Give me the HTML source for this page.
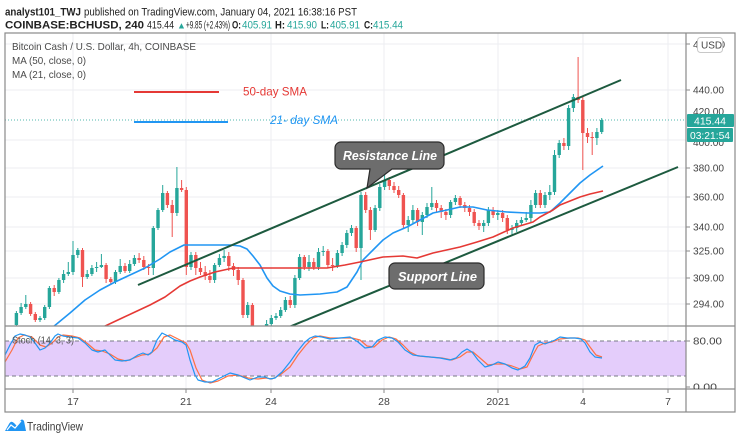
<!DOCTYPE html>
<html><head><meta charset="utf-8"><style>
html,body{margin:0;padding:0;background:#fff;}
svg{display:block;font-family:"Liberation Sans",sans-serif;}
</style></head><body>
<svg width="740" height="441" viewBox="0 0 740 441" xmlns="http://www.w3.org/2000/svg">
<defs>
<clipPath id="mp"><rect x="5" y="33" width="681" height="293"/></clipPath>
<clipPath id="sp"><rect x="5" y="326" width="681" height="63"/></clipPath>
<clipPath id="ax"><rect x="686" y="326" width="49" height="63"/></clipPath>
</defs>
<rect width="740" height="441" fill="#fff"/>

<!-- header -->
<text x="5" y="15.5" font-size="11" font-weight="bold" fill="#222" textLength="76" lengthAdjust="spacingAndGlyphs">analyst101_TWJ</text>
<text x="84" y="15.5" font-size="11" fill="#222" textLength="273" lengthAdjust="spacingAndGlyphs">published on TradingView.com, January 04, 2021 16:38:16 PST</text>
<g font-size="11" fill="#222">
<text x="5" y="28.5" font-weight="bold" textLength="139" lengthAdjust="spacingAndGlyphs">COINBASE:BCHUSD, 240</text>
<text x="147" y="28.5" textLength="27" lengthAdjust="spacingAndGlyphs">415.44</text>
<text x="177" y="28.5" fill="#26a69a" font-size="9">▲</text>
<text x="186" y="28.5" textLength="44" lengthAdjust="spacingAndGlyphs">+9.85 (+2.43%)</text>
<text x="232" y="28.5" font-weight="bold" textLength="9" lengthAdjust="spacingAndGlyphs">O:</text><text x="242" y="28.5" fill="#26a69a" textLength="30" lengthAdjust="spacingAndGlyphs">405.91</text>
<text x="275" y="28.5" font-weight="bold" textLength="10" lengthAdjust="spacingAndGlyphs">H:</text><text x="287" y="28.5" fill="#26a69a" textLength="30" lengthAdjust="spacingAndGlyphs">415.90</text>
<text x="321" y="28.5" font-weight="bold" textLength="8" lengthAdjust="spacingAndGlyphs">L:</text><text x="330" y="28.5" fill="#26a69a" textLength="30" lengthAdjust="spacingAndGlyphs">405.91</text>
<text x="364" y="28.5" font-weight="bold" textLength="9" lengthAdjust="spacingAndGlyphs">C:</text><text x="373" y="28.5" fill="#26a69a" textLength="30" lengthAdjust="spacingAndGlyphs">415.44</text>
</g>

<!-- grid -->
<g stroke="#eceef2" stroke-width="1">
<line x1="5" y1="44" x2="686" y2="44"/>
<line x1="5" y1="90" x2="686" y2="90"/>
<line x1="5" y1="140" x2="686" y2="140"/>
<line x1="5" y1="168" x2="686" y2="168"/>
<line x1="5" y1="197" x2="686" y2="197"/>
<line x1="5" y1="227" x2="686" y2="227"/>
<line x1="5" y1="251" x2="686" y2="251"/>
<line x1="5" y1="278" x2="686" y2="278"/>
<line x1="5" y1="304" x2="686" y2="304"/>
<line x1="73" y1="33" x2="73" y2="389"/>
<line x1="186" y1="33" x2="186" y2="389"/>
<line x1="271" y1="33" x2="271" y2="389"/>
<line x1="384" y1="33" x2="384" y2="389"/>
<line x1="498" y1="33" x2="498" y2="389"/>
<line x1="583" y1="33" x2="583" y2="389"/>
<line x1="668" y1="33" x2="668" y2="389"/>
</g>

<!-- legend -->
<g fill="#4a4a4a" font-size="10.5">
<text x="12" y="50" textLength="184" lengthAdjust="spacingAndGlyphs">Bitcoin Cash / U.S. Dollar, 4h, COINBASE</text>
<text x="12" y="64" textLength="74" lengthAdjust="spacingAndGlyphs">MA (50, close, 0)</text>
<text x="12" y="78" textLength="74" lengthAdjust="spacingAndGlyphs">MA (21, close, 0)</text>
</g>

<!-- last price dotted line -->
<line x1="5" y1="120" x2="686" y2="120" stroke="#26a69a" stroke-width="1" stroke-dasharray="1 2" opacity="0.8"/>

<g clip-path="url(#mp)">
<!-- green candles -->
<path fill="none" stroke="#26a69a" stroke-width="1" d="M16.4 311V327M21.1 303V315M25.8 295V309M40 316V322M44.7 305V320M49.4 286V309M58.9 278V294M63.6 270V283M68.3 262V276M73 241V275M77.8 248V258M87.2 270V279M91.9 265V276M96.6 262V272M101.4 254V268M115.5 270V284M120.2 259V274M129.7 260V273M134.4 255V266M153.3 226V275M158 208V230M162.7 185V212M176.9 167V216M191 252V270M214.6 263V283M219.4 254V267M224.1 250V262M247.7 302V318M261.8 328V342M266.6 320V336M271.3 315V327M276 313V320M280.7 307V318M285.4 297V312M294.9 275V308M299.6 254V280M309 255V271M318.5 248V270M323.2 246V256M337.4 250V268M342.1 242V256M346.8 230V248M351.5 225V236M361 192V280M375.1 205V232M379.8 184V211M384.6 175V190M408.2 216V232M412.9 205V223M422.3 212V235M427 203V218M431.8 187V210M450.6 200V218M455.4 195V205M483.7 220V232M488.4 207V226M497.8 210V220M512 225V235M516.7 220V232M521.4 217V226M526.2 212V222M530.9 200V222M535.6 190V208M545 192V208M549.8 185V200M554.5 150V195M559.2 140V158M568.6 105V150M573.4 94V112M596.9 128V145M601.7 118V134"/>
<path fill="#26a69a" d="M14.7 313h3.4v12h-3.4zM19.4 307h3.4v6h-3.4zM24.1 304h3.4v3h-3.4zM38.3 318h3.4v2h-3.4zM43.0 307h3.4v11h-3.4zM47.7 288h3.4v19h-3.4zM57.2 280h3.4v12h-3.4zM61.9 274h3.4v6h-3.4zM66.6 272h3.4v2h-3.4zM71.3 255h3.4v17h-3.4zM76.1 250h3.4v5h-3.4zM85.5 274h3.4v3h-3.4zM90.2 268h3.4v6h-3.4zM94.9 267h3.4v1h-3.4zM99.7 265h3.4v2h-3.4zM113.8 272h3.4v10h-3.4zM118.5 266h3.4v6h-3.4zM128.0 264h3.4v7h-3.4zM132.7 258h3.4v6h-3.4zM151.6 228h3.4v40h-3.4zM156.3 210h3.4v18h-3.4zM161.0 193h3.4v17h-3.4zM175.2 188h3.4v25h-3.4zM189.3 255h3.4v12h-3.4zM212.9 265h3.4v15h-3.4zM217.7 258h3.4v7h-3.4zM222.4 256h3.4v2h-3.4zM246.0 305h3.4v10h-3.4zM260.1 332h3.4v6h-3.4zM264.9 324h3.4v8h-3.4zM269.6 318h3.4v6h-3.4zM274.3 316h3.4v2h-3.4zM279.0 310h3.4v6h-3.4zM283.7 300h3.4v10h-3.4zM293.2 278h3.4v27h-3.4zM297.9 257h3.4v21h-3.4zM307.3 262h3.4v5h-3.4zM316.8 252h3.4v15h-3.4zM321.5 251h3.4v1h-3.4zM335.7 253h3.4v13h-3.4zM340.4 245h3.4v8h-3.4zM345.1 233h3.4v12h-3.4zM349.8 228h3.4v5h-3.4zM359.3 195h3.4v53h-3.4zM373.4 208h3.4v22h-3.4zM378.1 187h3.4v21h-3.4zM382.9 180h3.4v7h-3.4zM406.5 220h3.4v5h-3.4zM411.2 210h3.4v10h-3.4zM420.6 215h3.4v7h-3.4zM425.3 207h3.4v8h-3.4zM430.1 203h3.4v4h-3.4zM448.9 202h3.4v13h-3.4zM453.7 198h3.4v4h-3.4zM482.0 223h3.4v3h-3.4zM486.7 210h3.4v13h-3.4zM496.1 213h3.4v2h-3.4zM510.3 228h3.4v2h-3.4zM515.0 223h3.4v5h-3.4zM519.7 220h3.4v3h-3.4zM524.5 218h3.4v2h-3.4zM529.2 205h3.4v13h-3.4zM533.9 193h3.4v12h-3.4zM543.3 195h3.4v10h-3.4zM548.1 192h3.4v3h-3.4zM552.8 155h3.4v37h-3.4zM557.5 143h3.4v12h-3.4zM566.9 108h3.4v38h-3.4zM571.7 97h3.4v11h-3.4zM595.2 132h3.4v6h-3.4zM600.0 120h3.4v12h-3.4z"/>
<!-- red candles -->
<path fill="none" stroke="#ef5350" stroke-width="1" d="M30.6 302V316M35.3 312V322M54.2 285V296M82.5 248V287M106.1 263V283M110.8 277V285M125 263V273M139.1 253V263M143.8 256V270M148.6 264V275M167.4 191V208M172.2 200V237M181.6 180V192M186.3 187V275M195.8 252V275M200.5 262V275M205.2 266V280M209.9 270V283M228.8 252V271M233.5 263V276M238.2 267V285M243 278V318M252.4 303V340M257.1 326V345M290.2 296V308M304.3 255V270M313.8 258V270M327.9 249V268M332.6 258V271M356.2 226V252M365.7 192V213M370.4 207V240M389.3 177V190M394 182V193M398.7 186V198M403.4 193V228M417.6 208V226M436.5 200V212M441.2 205V218M445.9 209V220M460.1 196V208M464.8 202V212M469.5 205V216M474.2 209V226M479 220V230M493.1 207V218M502.6 210V222M507.3 215V234M540.3 190V208M563.9 138V150M578.1 57V103M582.8 97V170M587.5 128V143M592.2 132V155"/>
<path fill="#ef5350" d="M28.9 304h3.4v10h-3.4zM33.6 314h3.4v6h-3.4zM52.5 288h3.4v4h-3.4zM80.8 250h3.4v27h-3.4zM104.4 265h3.4v14h-3.4zM109.1 279h3.4v3h-3.4zM123.3 266h3.4v5h-3.4zM137.4 258h3.4v2h-3.4zM142.1 260h3.4v7h-3.4zM146.9 267h3.4v1h-3.4zM165.7 193h3.4v12h-3.4zM170.5 205h3.4v8h-3.4zM179.9 188h3.4v2h-3.4zM184.6 190h3.4v77h-3.4zM194.1 255h3.4v13h-3.4zM198.8 268h3.4v4h-3.4zM203.5 272h3.4v4h-3.4zM208.2 276h3.4v4h-3.4zM227.1 256h3.4v10h-3.4zM231.8 266h3.4v4h-3.4zM236.5 270h3.4v10h-3.4zM241.3 280h3.4v35h-3.4zM250.7 305h3.4v25h-3.4zM255.4 330h3.4v8h-3.4zM288.5 300h3.4v5h-3.4zM302.6 257h3.4v10h-3.4zM312.1 262h3.4v5h-3.4zM326.2 251h3.4v14h-3.4zM330.9 265h3.4v1h-3.4zM354.5 228h3.4v20h-3.4zM364.0 195h3.4v15h-3.4zM368.7 210h3.4v20h-3.4zM387.6 180h3.4v6h-3.4zM392.3 186h3.4v4h-3.4zM397.0 190h3.4v5h-3.4zM401.7 195h3.4v30h-3.4zM415.9 210h3.4v12h-3.4zM434.8 203h3.4v5h-3.4zM439.5 208h3.4v4h-3.4zM444.2 212h3.4v3h-3.4zM458.4 198h3.4v7h-3.4zM463.1 205h3.4v3h-3.4zM467.8 208h3.4v4h-3.4zM472.5 212h3.4v11h-3.4zM477.3 223h3.4v3h-3.4zM491.4 210h3.4v5h-3.4zM500.9 213h3.4v5h-3.4zM505.6 218h3.4v12h-3.4zM538.6 193h3.4v12h-3.4zM562.2 143h3.4v3h-3.4zM576.4 97h3.4v3h-3.4zM581.1 100h3.4v33h-3.4zM585.8 133h3.4v4h-3.4zM590.5 137h3.4v1h-3.4z"/>

<!-- MAs -->
<polyline fill="none" stroke="#2196f3" stroke-width="1.6" stroke-linejoin="round" points="53,327 70,313 85,300 100,290 115,282 130,275 145,268 160,259 170,252 180,247 184,245 195,245 215,245 230,245 240,246 247,249 253,256 260,265 267,278 273,286 280,291 290,294 300,295 320,294 337,292 347,287 357,272 363,260 373,250 383,240 393,233 407,227 420,220 433,213 447,210 460,207 473,207 487,210 507,212 527,213 540,213 550,212 560,203 570,193 580,183 590,175 603,166"/>
<polyline fill="none" stroke="#e53935" stroke-width="1.6" stroke-linejoin="round" points="103,327 120,319 135,312 150,305 165,297 180,286 190,281 200,277 215,272 233,268 250,268 280,268 300,268 327,268 345,265 360,262 383,257 403,256 417,258 433,253 460,247 477,242 493,237 513,228 533,222 540,217 553,210 560,205 580,197 590,194 603,191"/>

<!-- trend lines -->
<line x1="138" y1="285" x2="621" y2="80" stroke="#1d5a3f" stroke-width="2"/>
<line x1="289" y1="327" x2="678" y2="167" stroke="#1d5a3f" stroke-width="2"/>
</g>

<!-- SMA annotations -->
<line x1="134" y1="92" x2="219" y2="92" stroke="#e53935" stroke-width="2"/>
<text x="243" y="95.5" font-size="12" fill="#e53935" textLength="64" lengthAdjust="spacingAndGlyphs">50-day SMA</text>
<line x1="134" y1="122" x2="228" y2="122" stroke="#2196f3" stroke-width="2"/>
<text x="270" y="124" font-size="12" font-style="italic" fill="#2196f3" textLength="68" lengthAdjust="spacingAndGlyphs">21- day SMA</text>

<!-- callouts -->
<path d="M341 142h97a6 6 0 0 1 6 6v15a6 6 0 0 1-6 6h-46l-25 19 3-19h-29a6 6 0 0 1-6-6v-15a6 6 0 0 1 6-6z" fill="#6d6d6d" stroke="#2b2b2b" stroke-width="1.2"/>
<text x="343" y="160" font-size="13" font-style="italic" font-weight="bold" fill="#fff" textLength="94" lengthAdjust="spacingAndGlyphs">Resistance Line</text>
<rect x="389" y="263" width="95" height="26" rx="6" fill="#6d6d6d" stroke="#2b2b2b" stroke-width="1.2"/>
<text x="398" y="281" font-size="13" font-style="italic" font-weight="bold" fill="#fff" textLength="79" lengthAdjust="spacingAndGlyphs">Support Line</text>

<!-- stoch pane -->
<g clip-path="url(#sp)">
<rect x="5" y="341" width="681" height="35" fill="#e4cdfb"/>
<line x1="5" y1="341" x2="686" y2="341" stroke="#787b86" stroke-width="1" stroke-dasharray="4 3"/>
<line x1="5" y1="376" x2="686" y2="376" stroke="#787b86" stroke-width="1" stroke-dasharray="4 3"/>
<polyline fill="none" stroke="#ff7043" stroke-width="1.2" stroke-linejoin="round" points="5,362 12,350 18,338 24,335 32,337 40,345 46,347 52,343 58,337 63,335 72,336 80,338 88,344 95,350 102,351 110,354 118,359 126,361 134,358 142,355 150,354 157,348 164,337 170,335 178,339 186,343 190,350 196,368 202,380 210,383 218,381 228,376 238,375 248,378 258,379 266,378 272,379 280,375 290,367 298,355 306,345 313,338 320,336 330,338 342,338 352,338 360,340 367,346 374,347 382,340 389,337 396,339 403,345 410,352 418,356 430,357 442,358 452,360 460,357 467,352 473,352 480,358 488,365 496,364 504,364 512,366 520,369 527,367 533,355 538,346 545,343 552,342 560,339 570,338 578,338 585,340 590,347 596,355 602,357"/>
<polyline fill="none" stroke="#2196f3" stroke-width="1.2" stroke-linejoin="round" points="5,355 10,345 15,336 20,334 25,335 30,337 35,343 40,350 45,348 50,343 55,336 58,334 63,336 70,337 78,338 85,343 92,350 98,352 105,350 110,355 115,360 122,361 130,360 138,355 143,353 148,355 152,352 157,340 162,333 168,336 175,340 182,342 186,345 190,360 195,375 198,380 205,382 212,382 220,378 230,373 238,375 245,378 250,380 258,377 265,377 270,379 275,378 282,372 290,362 297,352 305,342 310,338 315,336 322,337 330,339 340,338 350,337 358,342 365,348 372,347 378,340 385,337 392,338 398,342 405,350 413,355 420,356 430,357 440,358 450,360 456,358 462,352 467,349 472,352 478,360 485,367 492,365 498,362 505,364 512,368 518,370 525,366 530,358 535,345 540,342 545,344 550,342 555,340 560,337 567,338 575,338 581,339 585,343 590,352 595,357 602,358"/>
</g>
<text x="12" y="343.5" font-size="10.5" fill="#555" textLength="62" lengthAdjust="spacingAndGlyphs">Stoch (14, 3, 3)</text>

<!-- frame -->
<rect x="5" y="33" width="730" height="379" fill="none" stroke="#8a8a8a" stroke-width="1.2"/>
<line x1="5" y1="326" x2="735" y2="326" stroke="#8a8a8a" stroke-width="1.2"/>
<line x1="5" y1="389" x2="735" y2="389" stroke="#8a8a8a" stroke-width="1.2"/>
<line x1="686" y1="33" x2="686" y2="412" stroke="#8a8a8a" stroke-width="1.2"/>

<!-- price axis -->
<g stroke="#8a8a8a" stroke-width="1">
<line x1="686" y1="44" x2="690" y2="44"/><line x1="686" y1="90" x2="690" y2="90"/>
<line x1="686" y1="168" x2="690" y2="168"/><line x1="686" y1="197" x2="690" y2="197"/>
<line x1="686" y1="227" x2="690" y2="227"/><line x1="686" y1="251" x2="690" y2="251"/>
<line x1="686" y1="278" x2="690" y2="278"/><line x1="686" y1="304" x2="690" y2="304"/>
<line x1="686" y1="341" x2="690" y2="341"/><line x1="686" y1="387" x2="690" y2="387"/>
</g>
<g font-size="10.5" fill="#444">
<text x="693" y="48">480.00</text>
<text x="693" y="93.5" textLength="31" lengthAdjust="spacingAndGlyphs">440.00</text>
<text x="693" y="115" textLength="31" lengthAdjust="spacingAndGlyphs">420.00</text>
<text x="693" y="146" textLength="31" lengthAdjust="spacingAndGlyphs">400.00</text>
<text x="693" y="171.5" textLength="31" lengthAdjust="spacingAndGlyphs">380.00</text>
<text x="693" y="200.5" textLength="31" lengthAdjust="spacingAndGlyphs">360.00</text>
<text x="693" y="230.5" textLength="31" lengthAdjust="spacingAndGlyphs">340.00</text>
<text x="693" y="254.5" textLength="31" lengthAdjust="spacingAndGlyphs">325.00</text>
<text x="693" y="281.5" textLength="31" lengthAdjust="spacingAndGlyphs">309.00</text>
<text x="693" y="307.5" textLength="31" lengthAdjust="spacingAndGlyphs">294.00</text>
<text x="693" y="344.5" textLength="29" lengthAdjust="spacingAndGlyphs">80.00</text>
<g clip-path="url(#ax)"><text x="693" y="390.5" textLength="24" lengthAdjust="spacingAndGlyphs">0.00</text></g>
</g>
<rect x="697.5" y="37.5" width="25" height="15" rx="3" fill="#fff" stroke="#c8c8c8"/>
<text x="701" y="48.5" font-size="10" fill="#444">USD</text>
<rect x="687" y="114" width="47" height="13" rx="1" fill="#26a69a"/>
<text x="694" y="124.5" font-size="10.5" fill="#fff" textLength="32" lengthAdjust="spacingAndGlyphs">415.44</text>
<rect x="687" y="128" width="46" height="14" rx="1" fill="#26a69a"/>
<text x="690" y="139" font-size="10.5" fill="#fff" textLength="40" lengthAdjust="spacingAndGlyphs">03:21:54</text>

<!-- time axis -->
<g stroke="#8a8a8a" stroke-width="1">
<line x1="73" y1="389" x2="73" y2="393"/><line x1="186" y1="389" x2="186" y2="393"/>
<line x1="271" y1="389" x2="271" y2="393"/><line x1="384" y1="389" x2="384" y2="393"/>
<line x1="498" y1="389" x2="498" y2="393"/><line x1="583" y1="389" x2="583" y2="393"/>
<line x1="668" y1="389" x2="668" y2="393"/>
</g>
<g font-size="10.5" fill="#444" text-anchor="middle">
<text x="73" y="405">17</text><text x="186" y="405">21</text><text x="271" y="405">24</text>
<text x="384" y="405">28</text><text x="498" y="405">2021</text><text x="583" y="405">4</text><text x="668" y="405">7</text>
</g>

<!-- footer logo -->
<path d="M5 431 L9 424 Q11 420 14 423 L17 426 L20 421 Q22 418 24 421 L26 431 Z" fill="#2196f3"/>
<path d="M7 430 L11 425 L15 428 L21 421" fill="none" stroke="#fff" stroke-width="1.2"/>
<text x="27" y="430.5" font-size="12" fill="#3a3a3a" textLength="56" lengthAdjust="spacingAndGlyphs">TradingView</text>
</svg>
</body></html>
